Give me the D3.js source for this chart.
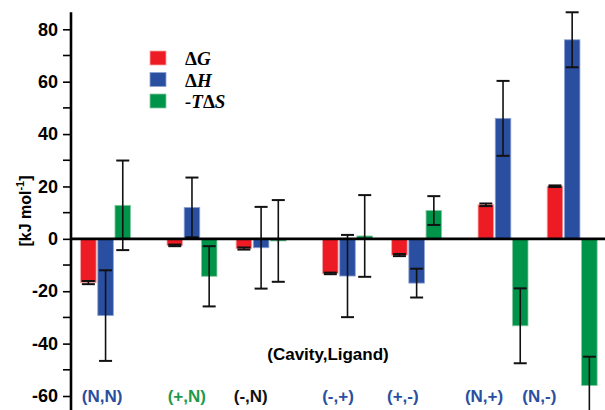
<!DOCTYPE html>
<html><head><meta charset="utf-8">
<script src="https://cdn.jsdelivr.net/npm/d3@7"></script>
<style>body{margin:0;background:#fff}svg{display:block}</style>
</head><body>
<svg id="c" width="605" height="410"></svg>
<script>
// ---- data ----
const categories = ["(N,N)", "(+,N)", "(-,N)", "(-,+)", "(+,-)", "(N,+)", "(N,-)"];
const groupX = [1, 2, 2.8, 3.8, 4.6, 5.6, 6.4];          // x position of each group on a numeric axis
const labelX = [0.96, 1.94, 2.68, 3.69, 4.44, 5.38, 6.02]; // x position of each category label
const seriesNames = [["\u0394", "G"], ["\u0394", "H"], ["-T", "\u0394", "S"]];
const dG     = [-16.7, -2.5, -3.7, -13.2, -6.2, 13.0, 20.1];
const dGerr  = [0.6, 0.3, 0.4, 0.3, 0.4, 0.5, 0.3];
const dH     = [-29.3, 12.0, -3.4, -14.2, -16.9, 46.0, 76.0];
const dHerr  = [17.3, 11.4, 15.6, 15.7, 5.5, 14.3, 10.5];
const TdS    = [12.8, -14.3, -0.8, 1.1, 10.8, -33.2, -56.0];
const TdSerr = [17.1, 11.5, 15.6, 15.6, 5.5, 14.3, 11.0];
const yTicksMajor = [-60, -40, -20, 0, 20, 40, 60, 80];
const yTicksMinor = [-50, -30, -10, 10, 30, 50, 70];
const xTitle = "(Cavity,Ligand)";

// ---- drawing ----
const svg = d3.select("#c");
const x = d3.scaleLinear().domain([0.6, 6.78]).range([71, 605]);
const y = d3.scaleLinear().domain([-60, 80]).range([396, 29.3]);
const yTop = 86.5, yBot = -66;

const colors = ["#ed1c24", "#2a4fa0", "#00934a"];
const strokes = ["#f7a3a6", "#8fa3d4", "#86c9a2"];
const labelColors = ["#2a4fa0", "#1e9a4c", "#111111", "#2a4fa0", "#2a4fa0", "#2a4fa0", "#2a4fa0"];
const series = [
  {vals: dG, errs: dGerr},
  {vals: dH, errs: dHerr},
  {vals: TdS, errs: TdSerr}
];
const barW = x(0.18) - x(0);
const step = x(0.199) - x(0);

const gBars = svg.append("g");
series.forEach((s, si) => {
  gBars.selectAll(null).data(s.vals).enter().append("rect")
    .attr("x", (d, i) => x(groupX[i]) + (si - 1) * step - barW / 2)
    .attr("y", d => y(Math.max(0, d)))
    .attr("width", barW)
    .attr("height", d => Math.abs(y(d) - y(0)))
    .attr("fill", colors[si])
    .attr("stroke", strokes[si])
    .attr("stroke-width", 0.8);
});

// error bars
const capW = 13;
series.forEach((s, si) => {
  const g = svg.append("g").attr("stroke", "#111").attr("stroke-width", 1.6).attr("fill", "none");
  s.vals.forEach((v, i) => {
    const cx = x(groupX[i]) + (si - 1) * step;
    const y1 = y(v + s.errs[i]), y2 = y(v - s.errs[i]);
    g.append("line").attr("x1", cx).attr("x2", cx).attr("y1", y1).attr("y2", y2);
    g.append("line").attr("x1", cx - capW / 2).attr("x2", cx + capW / 2).attr("y1", y1).attr("y2", y1).attr("stroke-width", 2);
    g.append("line").attr("x1", cx - capW / 2).attr("x2", cx + capW / 2).attr("y1", y2).attr("y2", y2).attr("stroke-width", 2);
  });
});

// zero line
svg.append("line").attr("x1", x(0.6)).attr("x2", x(6.78)).attr("y1", y(0)).attr("y2", y(0))
  .attr("stroke", "#000").attr("stroke-width", 2.6);

// y axis
const yScaleExt = y.copy().domain([yBot, yTop]).range([y(yBot), y(yTop)]);
const axG = svg.append("g").attr("transform", `translate(${x(0.6)},0)`);
axG.call(d3.axisLeft(yScaleExt).tickValues(yTicksMajor).tickSize(8).tickPadding(5).tickFormat(d => String(d)));
axG.select(".domain").attr("d", `M0,${y(yTop)}V${y(yBot)}`).attr("stroke", "#000").attr("stroke-width", 2.6);
axG.selectAll(".tick line").attr("stroke", "#000").attr("stroke-width", 1.6);
axG.selectAll(".tick text").attr("font-family", "Liberation Sans, Arial, sans-serif")
  .attr("font-weight", "bold").attr("font-size", 18).attr("fill", "#000");
axG.selectAll(".minor").data(yTicksMinor).enter().append("line").attr("class", "minor")
  .attr("x1", -8).attr("x2", 0).attr("y1", d => y(d)).attr("y2", d => y(d))
  .attr("stroke", "#000").attr("stroke-width", 1.6);

// y title
const yt = svg.append("text").attr("transform", `translate(31,211) rotate(-90)`)
  .attr("text-anchor", "middle").attr("font-family", "Liberation Sans, Arial, sans-serif")
  .attr("font-weight", "bold").attr("font-size", 16).attr("fill", "#000");
yt.append("tspan").text("[kJ mol");
yt.append("tspan").attr("font-size", 11).attr("dy", -7).text("-1");
yt.append("tspan").attr("dy", 7).text("]");

// category labels
svg.selectAll(".cat").data(categories).enter().append("text").attr("class", "cat")
  .attr("x", (d, i) => x(labelX[i])).attr("y", 402)
  .attr("text-anchor", "middle").attr("font-family", "Liberation Sans, Arial, sans-serif")
  .attr("font-weight", "bold").attr("font-size", 17).attr("fill", (d, i) => labelColors[i])
  .text(d => d);

// x title
svg.append("text").attr("x", 328).attr("y", 360).attr("text-anchor", "middle")
  .attr("font-family", "Liberation Sans, Arial, sans-serif").attr("font-weight", "bold")
  .attr("font-size", 17).attr("fill", "#000").text(xTitle);

// legend
const leg = svg.append("g");
seriesNames.forEach((parts, i) => {
  leg.append("rect").attr("x", 150).attr("y", 51 + i * 21.5).attr("width", 16).attr("height", 14)
    .attr("fill", colors[i]).attr("stroke", strokes[i]).attr("stroke-width", 0.8);
  const t = leg.append("text").attr("x", 185).attr("y", 65 + i * 21.5)
    .attr("font-family", "Liberation Serif, Times New Roman, serif").attr("font-weight", "bold")
    .attr("font-size", 19).attr("fill", "#000");
  parts.forEach(p => {
    t.append("tspan").attr("font-style", p === "\u0394" ? "normal" : "italic").text(p);
  });
});
</script>
</body></html>
